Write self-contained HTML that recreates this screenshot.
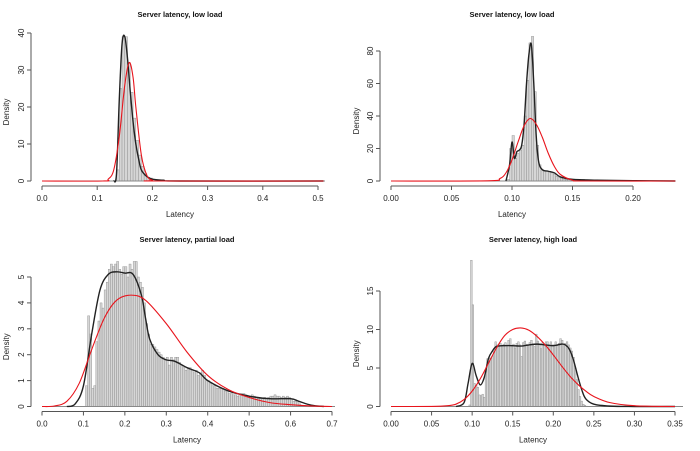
<!DOCTYPE html>
<html><head><meta charset="utf-8"><style>
body{margin:0;background:#fff;}
svg{display:block;font-family:"Liberation Sans",sans-serif;}
</style></head><body>
<svg id="chart" width="700" height="451" viewBox="0 0 700 451" xmlns="http://www.w3.org/2000/svg"></svg>
<script>
// ---------- Panel 1: low load ----------
const p1BinStart=0.135, p1BinWidth=0.005;
const p1Bins=[3,25,39,39,32,24,17,11,7,4,2,1,0.8,0.5,0.3,0.2,0.2,0.1,0.1,0.05,0.05,0.05];
const p1KdeX=[0.13,0.135,0.14,0.145,0.15,0.155,0.16,0.165,0.17,0.175,0.18,0.19,0.2,0.22,0.25,0.51];
const p1KdeY=[0,2,22,37,39,33,24,16,10,6,3,1.2,0.5,0.2,0,0];
const p1FitX=[0,0.11,0.12,0.13,0.14,0.15,0.158,0.165,0.17,0.18,0.19,0.2,0.21,0.51];
const p1FitY=[0,0,0.5,3,12,26,32,28,20,7,1.5,0.2,0,0];
const p1XTicks=[0,0.1,0.2,0.3,0.4,0.5], p1XLabels=["0.0","0.1","0.2","0.3","0.4","0.5"];
const p1YTicks=[0,10,20,30,40];
// ---------- Panel 2: low load ----------
const p2BinStart=0.096, p2BinWidth=0.002;
const p2Bins=[1,20,28,14,17,19,22,40,62,85,89,55,22,10,7,6,6,6,5,4,3,2,1.5,1,1,1,1,1,1,1,1,1,0.8,0.6,0.5,0.5,0.5,0.5,0.4,0.4,0.4,0.3,0.3,0.3,0.3,0.3,0.2,0.2,0.2,0.2,0.2,0.2];
const p2KdeX=[0.095,0.098,0.1,0.102,0.104,0.106,0.108,0.11,0.112,0.114,0.116,0.118,0.12,0.122,0.125,0.13,0.135,0.14,0.15,0.17,0.2,0.235];
const p2KdeY=[0,10,24,14,18,19,22,35,60,78,84,60,28,12,7,6,5,2.5,1,0.5,0.2,0];
const p2FitX=[0,0.08,0.09,0.095,0.1,0.105,0.11,0.115,0.12,0.125,0.13,0.135,0.14,0.15,0.16,0.235];
const p2FitY=[0,0.1,1.5,5,13,24,34,38.5,35,27,17,9,4,0.5,0,0];
const p2XTicks=[0,0.05,0.1,0.15,0.2], p2XLabels=["0.00","0.05","0.10","0.15","0.20"];
const p2YTicks=[0,20,40,60,80];
// ---------- Panel 3: partial load ----------
const p3BinStart=0.105, p3BinWidth=0.005;
const p3Bins=[0.8,3.5,2.8,0.7,0.8,2.5,3.3,4.0,3.8,4.5,4.8,5.3,5.5,5.4,5.5,5.6,5.3,5.1,5.4,5.4,5.0,5.5,5.3,5.6,5.6,5.0,4.8,4.6,4.0,3.2,2.8,2.4,2.4,2.3,2.2,2.1,2.0,1.9,1.8,1.9,1.6,1.9,1.8,1.9,1.9,1.7,1.6,1.5,1.4,1.5,1.5,1.4,1.3,1.4,1.2,1.3,1.4,1.2,1.0,1.0,0.9,0.8,0.8,0.7,0.7,0.7,0.7,0.6,0.6,0.5,0.5,0.45,0.45,0.4,0.45,0.5,0.5,0.45,0.4,0.4,0.45,0.4,0.35,0.3,0.3,0.3,0.35,0.3,0.35,0.4,0.4,0.45,0.4,0.4,0.35,0.4,0.35,0.4,0.35,0.3,0.2,0.2,0.15,0.1,0.05,0.05,0.03,0.02,0.02,0.02,0.02,0.02,0.02,0.02,0.02];
const p3KdeX=[0.06,0.08,0.1,0.12,0.14,0.16,0.18,0.2,0.22,0.24,0.25,0.26,0.28,0.3,0.32,0.35,0.38,0.4,0.45,0.5,0.55,0.6,0.62,0.65,0.68];
const p3KdeY=[0,0.1,0.8,2.8,4.5,5.1,5.2,5.15,5.1,4.3,3.4,2.6,2.0,1.8,1.75,1.5,1.3,1.0,0.6,0.4,0.3,0.3,0.2,0.05,0];
const p3FitX=[0,0.03,0.06,0.09,0.12,0.15,0.18,0.215,0.25,0.3,0.35,0.4,0.45,0.5,0.55,0.6,0.65,0.7];
const p3FitY=[0,0.02,0.2,0.9,2.2,3.4,4.1,4.3,4.1,3.2,2.1,1.2,0.65,0.35,0.15,0.07,0.02,0];
const p3XTicks=[0,0.1,0.2,0.3,0.4,0.5,0.6,0.7], p3XLabels=["0.0","0.1","0.2","0.3","0.4","0.5","0.6","0.7"];
const p3YTicks=[0,1,2,3,4,5];
// ---------- Panel 4: high load ----------
const p4BinStart=0.096, p4BinWidth=0.002;
const p4Bins=[0.2,19,13.2,3,2.8,2.5,1.5,1.4,1.6,1.2,4.5,6.2,6.2,6.3,6.5,7.5,8.4,8.0,7.8,8.2,7.9,8.1,8.3,7.9,8.6,8.8,7.9,8.1,7.6,8.2,8.4,8.0,6.5,8.3,8.5,8.1,8.0,8.3,8.6,8.0,7.8,9.4,8.5,8.0,7.5,8.3,8.0,8.4,8.4,8.0,8.4,8.0,8.0,8.4,7.9,8.2,8.8,8.6,8.0,8.2,8.4,8.0,7.6,7.2,6.4,5.0,3.5,2.2,1.3,0.7,0.3,0.15,0.05];
const p4KdeX=[0.08,0.09,0.095,0.1,0.105,0.11,0.115,0.12,0.125,0.13,0.14,0.15,0.16,0.17,0.18,0.19,0.2,0.21,0.215,0.22,0.225,0.23,0.235,0.24,0.25,0.27,0.3,0.35];
const p4KdeY=[0,0.5,3,5.6,4.0,2.8,3.8,6.2,7.2,7.8,7.9,7.9,7.85,8.0,8.1,8.0,7.9,8.1,8.0,7.4,6.0,4.0,2.2,1.0,0.3,0.05,0,0];
const p4FitX=[0,0.05,0.07,0.08,0.09,0.1,0.11,0.12,0.13,0.14,0.15,0.16,0.17,0.18,0.19,0.2,0.21,0.22,0.23,0.24,0.25,0.27,0.3,0.35];
const p4FitY=[0,0.01,0.1,0.3,0.9,2.0,3.6,5.6,7.6,9.2,10.0,10.2,9.9,9.1,8.0,6.7,5.3,4.0,2.9,2.0,1.3,0.5,0.1,0];
const p4XTicks=[0,0.05,0.1,0.15,0.2,0.25,0.3,0.35], p4XLabels=["0.00","0.05","0.10","0.15","0.20","0.25","0.30","0.35"];
const p4YTicks=[0,5,10,15];

const titles=["Server latency, low load","Server latency, low load","Server latency, partial load","Server latency, high load"];

const NS="http://www.w3.org/2000/svg";
const svg=document.getElementById("chart");
function mk(tag,attrs,parent){const e=document.createElementNS(NS,tag);for(const k in attrs)e.setAttribute(k,attrs[k]);(parent||svg).appendChild(e);return e;}
function smooth(pts){
  let d="M"+pts[0][0].toFixed(2)+","+pts[0][1].toFixed(2);
  for(let i=0;i<pts.length-1;i++){
    const p0=pts[Math.max(0,i-1)],p1=pts[i],p2=pts[i+1],p3=pts[Math.min(pts.length-1,i+2)];
    const c1=[p1[0]+(p2[0]-p0[0])/6,p1[1]+(p2[1]-p0[1])/6];
    const c2=[p2[0]-(p3[0]-p1[0])/6,p2[1]-(p3[1]-p1[1])/6];
    d+=" C"+c1[0].toFixed(2)+","+c1[1].toFixed(2)+" "+c2[0].toFixed(2)+","+c2[1].toFixed(2)+" "+p2[0].toFixed(2)+","+p2[1].toFixed(2);
  }
  return d;
}
function panel(idx,geo,binStart,binW,bins,kx,ky,fx,fy,xt,xl,yt){
  const g=mk("g",{});
  
  
  const xMax=xt[xt.length-1], yMax=yt[yt.length-1];
  const X=v=>geo.x0+(v-xt[0])/(xMax-xt[0])*(geo.x1-geo.x0);
  const Y=v=>geo.y0-v/yMax*(geo.y0-geo.y1);
  const cx=(geo.x0+geo.x1)/2;
  const t=mk("text",{x:cx,y:geo.oy+17,"text-anchor":"middle","font-size":"7.5","font-weight":"bold",fill:"#111"},g);
  t.textContent=titles[idx];
  
  
  const bg=mk("g",{},g);
  
  
  bins.forEach((h,i)=>{
    const a=X(binStart+i*binW),b=X(binStart+(i+1)*binW);
    const r=mk("rect",{x:a,y:Y(h),width:Math.max(0.3,b-a),height:Math.max(0,Y(0)-Y(h)),fill:"#d6d6d6",stroke:"#8a8a8a","stroke-width":"0.4"},bg);
    
    
  });
  const bl=mk("line",{x1:X(0),x2:geo.xEnd,y1:Y(0),y2:Y(0),stroke:"#888","stroke-width":"1"},g);
  
  
  const kde=mk("path",{d:smooth(kx.map((v,i)=>[X(v),Math.min(Y(0),Y(ky[i]))])),fill:"none",stroke:"#222","stroke-width":"1.4"},g);
  
  
  const fit=mk("path",{d:smooth(fx.map((v,i)=>[X(v),Math.min(Y(0),Y(fy[i]))])),fill:"none",stroke:"#e8141c","stroke-width":"1.1"},g);
  
  
  const ax=mk("g",{},g);
  
  
  const ay0=geo.y0+5;
  mk("line",{x1:X(xt[0]),x2:X(xMax),y1:ay0,y2:ay0,stroke:"#555","stroke-width":"1"},ax);
  xt.forEach((v,i)=>{
    mk("line",{x1:X(v),x2:X(v),y1:ay0,y2:ay0+4,stroke:"#555","stroke-width":"1"},ax);
    const tl=mk("text",{x:X(v),y:ay0+15,"text-anchor":"middle","font-size":"8",fill:"#222"},ax);
    tl.textContent=xl[i];
    
    
  });
  const xtt=mk("text",{x:cx,y:ay0+31,"text-anchor":"middle","font-size":"8",fill:"#222"},g);
  xtt.textContent="Latency";
  
  
  const yax=mk("g",{},g);
  
  
  const axX=geo.x0-11;
  mk("line",{x1:axX,x2:axX,y1:Y(0),y2:Y(yMax),stroke:"#555","stroke-width":"1"},yax);
  yt.forEach(v=>{
    mk("line",{x1:axX-4,x2:axX,y1:Y(v),y2:Y(v),stroke:"#555","stroke-width":"1"},yax);
    const tl=mk("text",{x:0,y:0,"text-anchor":"middle","font-size":"8",fill:"#222",transform:`translate(${axX-7},${Y(v)}) rotate(-90)`},yax);
    tl.textContent=String(v);
    
    
  });
  const ytt=mk("text",{x:0,y:0,"text-anchor":"middle","font-size":"8",fill:"#222",transform:`translate(${geo.ox+9},${(Y(0)+Y(yMax))/2+5}) rotate(-90)`},g);
  ytt.textContent="Density";
  
  
}
panel(0,{ox:0,oy:0,x0:42,x1:318,y0:181,y1:33,xEnd:325},p1BinStart,p1BinWidth,p1Bins,p1KdeX,p1KdeY,p1FitX,p1FitY,p1XTicks,p1XLabels,p1YTicks);
panel(1,{ox:350,oy:0,x0:391,x1:633,y0:181,y1:51,xEnd:675},p2BinStart,p2BinWidth,p2Bins,p2KdeX,p2KdeY,p2FitX,p2FitY,p2XTicks,p2XLabels,p2YTicks);
panel(2,{ox:0,oy:225,x0:42,x1:332,y0:406.5,y1:277,xEnd:335},p3BinStart,p3BinWidth,p3Bins,p3KdeX,p3KdeY,p3FitX,p3FitY,p3XTicks,p3XLabels,p3YTicks);
panel(3,{ox:350,oy:225,x0:391,x1:675,y0:406.5,y1:291,xEnd:683},p4BinStart,p4BinWidth,p4Bins,p4KdeX,p4KdeY,p4FitX,p4FitY,p4XTicks,p4XLabels,p4YTicks);
</script>
</body></html>
